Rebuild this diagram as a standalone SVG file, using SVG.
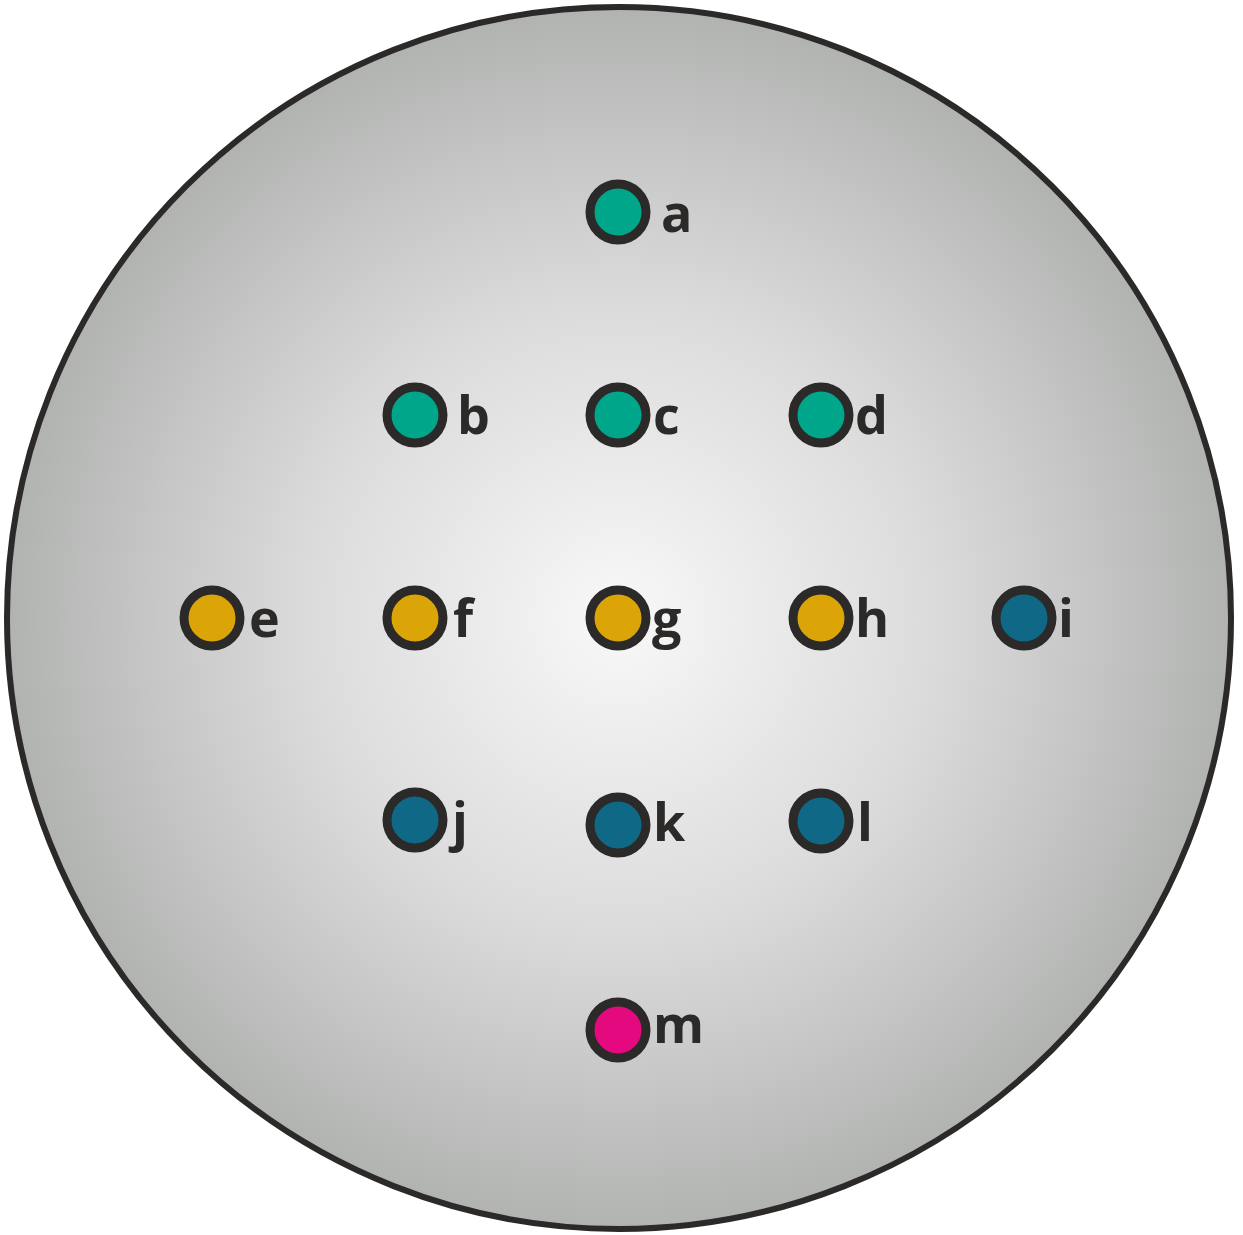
<svg xmlns="http://www.w3.org/2000/svg" width="1243" height="1235" viewBox="0 0 1243 1235">
<defs>
<radialGradient id="bg" cx="619" cy="618" r="612" gradientUnits="userSpaceOnUse">
<stop offset="0" stop-color="#f8f8f8"/>
<stop offset="0.5" stop-color="#dcdcdc"/>
<stop offset="1" stop-color="#b1b3b1"/>
</radialGradient>
<style>
.dot{stroke:#2b2a29;stroke-width:9}
.teal{fill:#00a68a}
.yel{fill:#dba507}
.blue{fill:#0f6886}
.pink{fill:#e5097f}
.lbl{font-family:"Open Sans","Liberation Sans",sans-serif;font-weight:700;font-size:52px;fill:#2b2a29}
</style>
</defs>
<ellipse id="outer" cx="619" cy="618" rx="612" ry="611" fill="url(#bg)" stroke="#2b2a29" stroke-width="6"/>
<g id="connectors"/>
<g id="a"><circle class="dot teal" cx="618" cy="212" r="28"/><text class="lbl" x="661" y="232">a</text></g>
<g id="b"><circle class="dot teal" cx="415" cy="415" r="28"/><text class="lbl" x="457" y="434">b</text></g>
<g id="c"><circle class="dot teal" cx="618" cy="415" r="28"/><text class="lbl" x="653" y="434">c</text></g>
<g id="d"><circle class="dot teal" cx="821" cy="415" r="28"/><text class="lbl" x="855" y="434">d</text></g>
<g id="e"><circle class="dot yel" cx="212" cy="618" r="28"/><text class="lbl" x="249" y="637">e</text></g>
<g id="f"><circle class="dot yel" cx="415" cy="618" r="28"/><text class="lbl" x="453" y="637">f</text></g>
<g id="g"><circle class="dot yel" cx="618" cy="618" r="28"/><text class="lbl" x="652" y="637">g</text></g>
<g id="h"><circle class="dot yel" cx="821" cy="618" r="28"/><text class="lbl" x="855" y="637">h</text></g>
<g id="i"><circle class="dot blue" cx="1024" cy="618" r="28"/><text class="lbl" x="1058" y="637">i</text></g>
<g id="j"><circle class="dot blue" cx="415" cy="820" r="28"/><text class="lbl" x="452" y="840">j</text></g>
<g id="k"><circle class="dot blue" cx="618" cy="825" r="28"/><text class="lbl" x="653" y="841">k</text></g>
<g id="l"><circle class="dot blue" cx="821" cy="821" r="28"/><text class="lbl" x="857" y="841">l</text></g>
<g id="m"><circle class="dot pink" cx="618" cy="1030" r="28"/><text class="lbl" x="653" y="1043">m</text></g>
</svg>
